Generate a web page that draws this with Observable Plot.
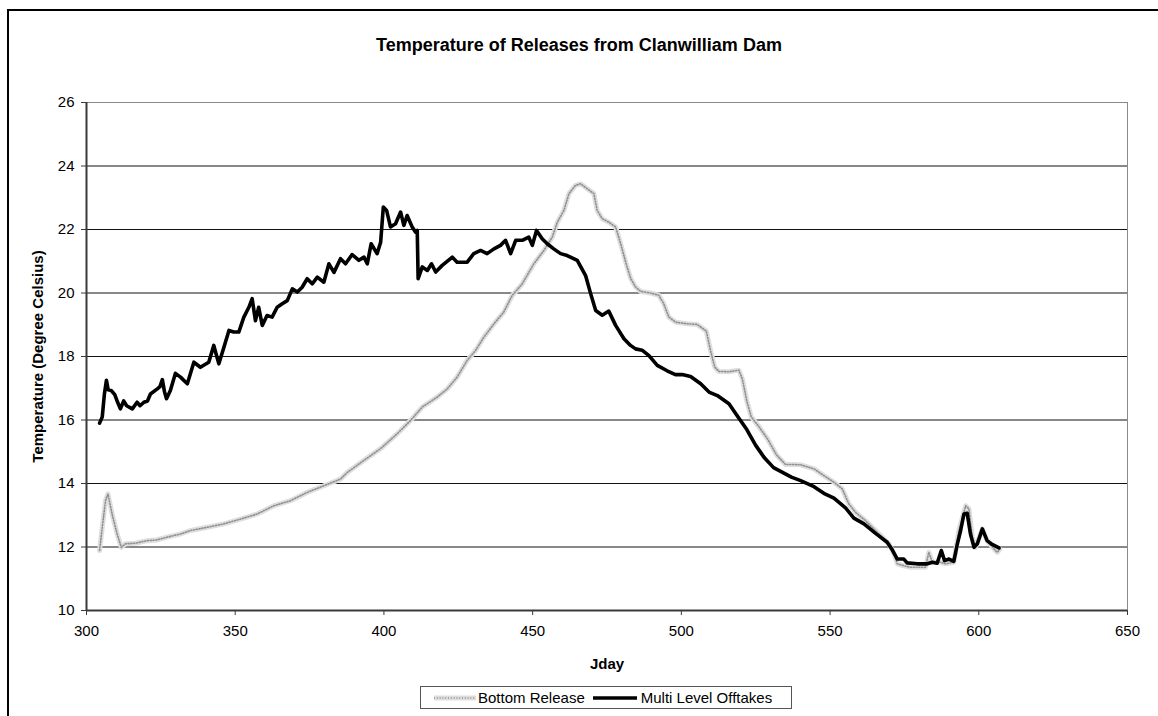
<!DOCTYPE html>
<html>
<head>
<meta charset="utf-8">
<script src="https://cdn.jsdelivr.net/npm/d3@7"></script>
<script src="https://cdn.jsdelivr.net/npm/@observablehq/plot@0.6"></script>
<style>
  body { margin: 0; background: #fff; font-family: "Liberation Sans", Arial, sans-serif; }
  #wrap { position: relative; width: 1158px; height: 716px; overflow: hidden; background: #fff; }
  #border { position: absolute; left: 7px; top: 9px; width: 1300px; height: 900px; border: 2px solid #000; box-sizing: border-box; }
  #title { position: absolute; left: 0; top: 35px; width: 1158px; text-align: center; font-weight: bold; font-size: 18px; color: #000; }
  #chart { position: absolute; left: 0; top: 0; }
  #chart g[aria-label="y-axis label"] text, #chart g[aria-label="x-axis label"] text { font-weight: bold; }
  #legend { position: absolute; left: 420px; top: 686px; width: 372px; height: 23px; border: 1px solid #555; box-sizing: border-box;
            display: flex; align-items: center; font-size: 15px; color: #000; white-space: nowrap; }
  #legend svg { display: block; }
</style>
</head>
<body>
<div id="wrap">
  <div id="border"></div>
  <div id="title">Temperature of Releases from Clanwilliam Dam</div>
  <div id="chart"></div>
  <div id="legend"></div>
</div>
<script>
// Julian day and release temperature (°C), bottom outlet
const bottomDay = [304.4, 305.3, 306.4, 307.2, 308.6, 310.3, 311.7, 313.1, 316.5, 320.4, 323.5, 327.1, 331.6, 335.0, 340.6, 346.2, 351.8, 357.4, 363.0, 368.6, 374.2, 379.8, 385.4, 387.7, 393.3, 398.9, 404.5, 409.0, 412.9, 417.9, 421.3, 424.6, 428.0, 430.8, 433.6, 437.0, 440.3, 443.1, 446.5, 450.4, 453.8, 456.6, 458.3, 460.5, 462.2, 464.4, 466.1, 468.4, 470.6, 471.7, 473.4, 475.6, 477.9, 479.6, 481.5, 483.0, 484.6, 486.3, 489.6, 492.4, 494.1, 495.8, 498.1, 502.0, 505.3, 508.4, 509.8, 511.2, 512.6, 516.0, 519.3, 520.5, 522.0, 523.5, 526.0, 529.0, 532.0, 535.0, 537.0, 540.1, 544.6, 547.9, 551.3, 554.1, 556.3, 558.6, 561.9, 565.9, 569.8, 571.5, 572.6, 574.8, 577.1, 582.1, 583.2, 584.4, 587.2, 588.8, 591.6, 593.3, 595.6, 596.7, 597.8, 598.9, 601.2, 602.8, 605.1, 606.2, 607.1];
const bottomTemp = [11.89, 12.62, 13.46, 13.67, 13.04, 12.41, 11.99, 12.10, 12.12, 12.20, 12.22, 12.31, 12.41, 12.52, 12.62, 12.73, 12.88, 13.04, 13.30, 13.46, 13.72, 13.93, 14.14, 14.35, 14.73, 15.10, 15.57, 15.99, 16.41, 16.72, 16.98, 17.35, 17.88, 18.19, 18.61, 19.03, 19.40, 19.92, 20.29, 20.92, 21.34, 21.76, 22.23, 22.60, 23.13, 23.39, 23.44, 23.28, 23.13, 22.60, 22.34, 22.23, 22.08, 21.55, 20.90, 20.45, 20.19, 20.05, 20.00, 19.93, 19.66, 19.24, 19.08, 19.03, 19.01, 18.80, 18.19, 17.67, 17.53, 17.52, 17.57, 17.30, 16.60, 16.10, 15.80, 15.40, 14.90, 14.60, 14.60, 14.59, 14.46, 14.25, 14.04, 13.83, 13.36, 13.09, 12.83, 12.46, 12.10, 11.78, 11.47, 11.41, 11.36, 11.36, 11.83, 11.52, 11.52, 11.47, 11.52, 12.52, 13.30, 13.20, 12.31, 11.99, 12.57, 12.20, 11.94, 11.83, 11.94];

// Julian day and release temperature (°C), multi level offtakes
const multiDay = [304.4, 305.3, 306.0, 306.7, 307.3, 308.3, 309.5, 310.5, 311.4, 312.5, 313.5, 315.4, 317.0, 318.0, 319.3, 320.5, 321.5, 323.8, 324.7, 325.5, 326.2, 326.9, 328.2, 329.9, 331.6, 333.9, 336.1, 338.3, 341.1, 342.8, 343.5, 344.5, 346.2, 347.9, 349.5, 351.2, 352.9, 354.6, 355.7, 356.8, 357.9, 359.1, 360.7, 362.4, 364.1, 365.8, 367.5, 369.2, 370.9, 372.5, 374.2, 375.9, 377.6, 379.8, 381.5, 383.2, 385.4, 387.1, 389.3, 391.6, 393.3, 394.4, 395.7, 397.7, 398.9, 399.8, 400.9, 402.2, 403.9, 405.6, 406.7, 407.8, 409.5, 410.6, 411.2, 411.5, 412.9, 414.6, 416.0, 417.4, 419.6, 423.0, 424.6, 428.0, 430.2, 432.5, 434.7, 437.0, 439.2, 440.9, 442.6, 444.3, 446.5, 448.7, 449.9, 451.3, 453.2, 454.9, 457.1, 459.4, 461.6, 465.0, 467.8, 469.5, 471.2, 473.4, 475.6, 477.9, 480.7, 482.9, 484.6, 486.8, 489.1, 491.9, 495.2, 498.0, 500.3, 503.1, 506.5, 509.3, 512.1, 516.0, 519.0, 522.0, 525.0, 528.0, 531.0, 534.0, 537.0, 540.1, 544.6, 547.9, 551.3, 555.2, 558.0, 561.4, 565.3, 569.2, 570.9, 572.6, 574.8, 575.9, 579.3, 582.7, 584.4, 586.0, 587.4, 588.5, 590.0, 591.6, 592.8, 593.9, 595.0, 596.1, 597.2, 598.4, 599.5, 601.2, 602.8, 604.5, 606.8];
const multiTemp = [15.90, 16.10, 16.80, 17.25, 16.95, 16.93, 16.80, 16.55, 16.35, 16.60, 16.45, 16.35, 16.56, 16.45, 16.56, 16.60, 16.82, 16.98, 17.05, 17.27, 16.90, 16.67, 16.93, 17.47, 17.35, 17.14, 17.82, 17.66, 17.82, 18.35, 18.10, 17.77, 18.29, 18.82, 18.77, 18.77, 19.24, 19.55, 19.82, 19.13, 19.55, 18.98, 19.29, 19.24, 19.55, 19.66, 19.76, 20.13, 20.03, 20.18, 20.45, 20.29, 20.50, 20.34, 20.92, 20.65, 21.08, 20.92, 21.21, 21.03, 21.13, 20.92, 21.55, 21.24, 21.60, 22.71, 22.60, 22.08, 22.18, 22.55, 22.13, 22.44, 22.08, 21.92, 21.97, 20.45, 20.82, 20.71, 20.92, 20.66, 20.87, 21.13, 20.97, 20.97, 21.24, 21.34, 21.24, 21.39, 21.50, 21.66, 21.24, 21.66, 21.66, 21.76, 21.50, 21.97, 21.71, 21.55, 21.39, 21.24, 21.18, 21.03, 20.55, 19.98, 19.45, 19.30, 19.43, 18.98, 18.56, 18.35, 18.24, 18.20, 18.03, 17.72, 17.55, 17.43, 17.43, 17.37, 17.14, 16.88, 16.77, 16.51, 16.10, 15.70, 15.20, 14.80, 14.50, 14.35, 14.20, 14.09, 13.90, 13.69, 13.54, 13.23, 12.91, 12.73, 12.43, 12.15, 11.91, 11.62, 11.62, 11.50, 11.47, 11.47, 11.52, 11.49, 11.89, 11.57, 11.62, 11.55, 12.10, 12.52, 13.04, 13.06, 12.41, 11.99, 12.10, 12.57, 12.20, 12.08, 11.97];

const xTicks = [300, 350, 400, 450, 500, 550, 600, 650];
const yTicks = [10, 12, 14, 16, 18, 20, 22, 24, 26];
const seriesNames = ["Bottom Release", "Multi Level Offtakes"];

const bottom = bottomDay.map((d, i) => ({day: d, temp: bottomTemp[i]}));
const multi = multiDay.map((d, i) => ({day: d, temp: multiTemp[i]}));

// stippled grey band used for the bottom-release series
const bandBase = {stroke: "#dedede", strokeWidth: 5, strokeLinejoin: "round"};
const bandDots = {stroke: "#8e8e8e", strokeWidth: 1.6, strokeDasharray: "1 1.8"};

const chart = Plot.plot({
  width: 1158,
  height: 680,
  marginLeft: 86,
  marginRight: 31,
  marginTop: 102,
  marginBottom: 70,
  style: {fontFamily: "'Liberation Sans', Arial, sans-serif", fontSize: "15px", color: "#000", background: "transparent", overflow: "visible"},
  x: {domain: [300, 650]},
  y: {domain: [10, 26]},
  marks: [
    // horizontal gridlines
    Plot.ruleY(yTicks.filter(t => t > 10 && t < 26), {stroke: "#111", strokeWidth: 1}),
    // light plot-area edges (top and right)
    Plot.ruleY([26], {stroke: "#8a8a8a", strokeWidth: 1}),
    Plot.ruleX([650], {stroke: "#8a8a8a", strokeWidth: 1}),
    // bottom release
    Plot.line(bottom, {x: "day", y: "temp", ...bandBase}),
    Plot.line(bottom, {x: "day", y: "temp", ...bandDots}),
    // multi level offtakes
    Plot.line(multi, {x: "day", y: "temp", stroke: "#000", strokeWidth: 3.6, strokeLinejoin: "round"}),
    // axis lines
    Plot.ruleX([300], {stroke: "#3a3a3a", strokeWidth: 2}),
    Plot.ruleY([10], {stroke: "#3a3a3a", strokeWidth: 2}),
    Plot.axisX({ticks: xTicks, tickSize: 5, tickPadding: 10, tickFormat: d => String(d), stroke: "#3a3a3a",
                label: "Jday", labelAnchor: "center", labelOffset: 58, labelArrow: "none"}),
    Plot.axisY({ticks: yTicks, tickSize: 5, tickPadding: 7, tickFormat: d => String(d), stroke: "#3a3a3a",
                label: "Temperature (Degree Celsius)", labelAnchor: "center", labelOffset: 54, labelArrow: "none"})
  ]
});
document.getElementById("chart").appendChild(chart);

// legend
const legend = d3.select("#legend");
function swatch(kind) {
  const s = legend.append("svg").attr("width", 44).attr("height", 10).style("margin-left", kind === "bottom" ? "12px" : "8px");
  if (kind === "bottom") {
    s.append("line").attr("x1", 1).attr("x2", 43).attr("y1", 5).attr("y2", 5)
      .attr("stroke", bandBase.stroke).attr("stroke-width", bandBase.strokeWidth);
    s.append("line").attr("x1", 1).attr("x2", 43).attr("y1", 5).attr("y2", 5)
      .attr("stroke", bandDots.stroke).attr("stroke-width", bandDots.strokeWidth).attr("stroke-dasharray", bandDots.strokeDasharray);
  } else {
    s.append("line").attr("x1", 0).attr("x2", 47).attr("y1", 5).attr("y2", 5).attr("stroke", "#000").attr("stroke-width", 3.4);
  }
  return s;
}
swatch("bottom");
legend.append("span").text(seriesNames[0]).style("margin-left", "1px");
swatch("multi");
legend.append("span").text(seriesNames[1]).style("margin-left", "4px");
</script>
</body>
</html>
